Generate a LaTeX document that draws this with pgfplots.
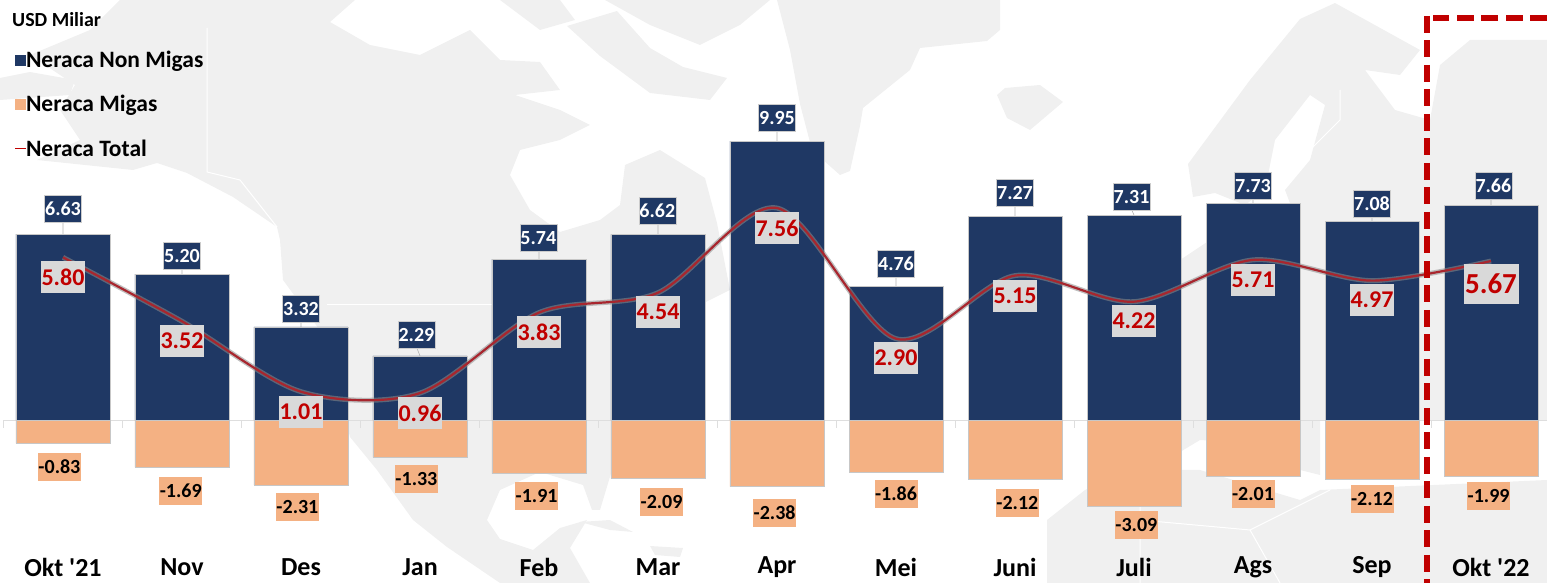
\documentclass[border=0pt]{standalone}
\usepackage{fontspec}
\setmainfont[Ligatures=TeXOff]{Carlito}
\usepackage{pgfplots}
\usepackage{pgfplotstable}
\pgfplotsset{compat=1.18}
\definecolor{navy}{HTML}{1F3864}
\definecolor{peach}{HTML}{F4B183}
\definecolor{dred}{HTML}{C00000}
\definecolor{lred}{HTML}{A8262E}
\definecolor{land}{HTML}{F0F0F0}
\pgfplotstableread{
x nonmigas migas total
0 6.63 -0.83 5.80
1 5.20 -1.69 3.52
2 3.32 -2.31 1.01
3 2.29 -1.33 0.96
4 5.74 -1.91 3.83
5 6.62 -2.09 4.54
6 9.95 -2.38 7.56
7 4.76 -1.86 2.90
8 7.27 -2.12 5.15
9 7.31 -3.09 4.22
10 7.73 -2.01 5.71
11 7.08 -2.12 4.97
12 7.66 -1.99 5.67
}\maindata
\pgfplotstableread{
x y lab
0 7.52 6.63
1 5.85 5.20
2 3.96 3.32
2.97 3.03 2.29
3.994 6.49 5.74
4.994 7.45 6.62
6 10.77 9.95
7 5.56 4.76
8 8.10 7.27
8.98 7.95 7.31
10 8.35 7.73
11 7.70 7.08
12.02 8.35 7.66
}\navylabels
\pgfplotstableread{
x y lab
-0.03 -1.68 -0.83
0.99 -2.53 -1.69
1.97 -3.10 -2.31
2.97 -2.10 -1.33
3.98 -2.71 -1.91
5.03 -2.92 -2.09
5.98 -3.32 -2.38
7 -2.64 -1.86
8.02 -2.96 -2.12
9.02 -3.74 -3.09
10 -2.64 -2.01
11 -2.82 -2.12
11.98 -2.71 -1.99
}\peachlabels
\pgfplotstableread{
x y lab
0 5.10 5.80
1 2.82 3.52
2 0.29 1.01
3 0.25 0.96
4 3.14 3.83
5 3.85 4.54
6 6.85 7.56
7 2.21 2.90
8 4.42 5.15
9 3.53 4.22
10 5.00 5.71
11 4.28 4.97
}\redlabels
\pgfplotstableread{
x y lab
12 4.85 5.67
}\biglabel
\pgfplotstableread{
x y
0 6.63
0 7.1
nan nan
1 5.20
1 5.4
nan nan
2 3.32
2 3.5
nan nan
3 2.29
2.97 2.6
nan nan
4 5.74
4 6.0
nan nan
5 6.62
5 7.0
nan nan
6 9.95
6 10.3
nan nan
7 4.76
7 5.1
nan nan
8 7.27
8 7.7
nan nan
9 7.31
8.98 7.5
nan nan
10 7.73
10 7.9
nan nan
11 7.08
11 7.3
nan nan
12 7.66
12 7.9
}\leaders
\pgfplotstableread{
x y
-0.5 0
12.6 0
nan nan
-0.5 0
-0.5 -0.28
nan nan
0.5 0
0.5 -0.28
nan nan
1.5 0
1.5 -0.28
nan nan
2.5 0
2.5 -0.28
nan nan
3.5 0
3.5 -0.28
nan nan
4.5 0
4.5 -0.28
nan nan
5.5 0
5.5 -0.28
nan nan
6.5 0
6.5 -0.28
nan nan
7.5 0
7.5 -0.28
nan nan
8.5 0
8.5 -0.28
nan nan
9.5 0
9.5 -0.28
nan nan
10.5 0
10.5 -0.28
nan nan
11.5 0
11.5 -0.28
}\zeroline
\begin{document}
\begin{tikzpicture}
\useasboundingbox (0,0) rectangle (1547pt,583pt);
% background map, pixel coordinates with y downwards
\begin{scope}[x=1pt,y=-1pt,yshift=583pt]
\clip (0,0) rectangle (1547,583);
\fill[land] (0,78) -- (30,72) -- (75,80) -- (70,95) -- (0,100) -- cycle;
% Alaska and mainland North America
\fill[land] (120,0) -- (355,0) -- (330,22) -- (370,45) -- (420,55) -- (470,30) -- (500,60) -- (540,62)
 -- (560,90) -- (515,95) -- (560,110) -- (590,125) -- (560,140) -- (520,150) -- (510,175) -- (530,210)
 -- (560,232) -- (600,220) -- (620,205) -- (625,165) -- (660,150) -- (705,178) -- (717,223) -- (730,290)
 -- (690,310) -- (690,420) -- (640,440) -- (612,470) -- (600,510) -- (592,510) -- (583,485) -- (540,472) -- (500,490)
 -- (487,520) -- (500,539) -- (533,550) -- (560,528) -- (587,520) -- (570,548) -- (590,583)
 -- (500,583) -- (447,547) -- (413,520) -- (377,470) -- (350,437) -- (327,340) -- (283,280) -- (280,240)
 -- (277,227) -- (233,197) -- (187,173) -- (157,163) -- (133,170) -- (37,160) -- (80,140) -- (60,110)
 -- (75,85) -- (30,55) -- (90,30) -- cycle;
% Arctic islands
\fill[land] (567,26) -- (617,11) -- (650,48) -- (683,67) -- (727,78) -- (710,100) -- (650,93) -- (600,56) -- cycle;
\fill[land] (500,0) -- (560,0) -- (575,20) -- (540,30) -- cycle;
\fill[land] (605,0) -- (770,0) -- (740,25) -- (700,45) -- (650,25) -- cycle;
% Caribbean
\fill[land] (580,522) -- (610,520) -- (633,532) -- (610,530) -- cycle;
\fill[land] (650,546) -- (683,548) -- (680,557) -- (655,555) -- cycle;
% Greenland
\fill[land] (777,0) -- (1000,0) -- (1000,30) -- (987,41) -- (920,48) -- (910,70) -- (863,108) -- (860,126)
 -- (850,171) -- (840,175) -- (823,160) -- (812,150) -- (800,104) -- (790,50) -- cycle;
% Iceland
\fill[land] (997,95) -- (1005,88) -- (1040,85) -- (1063,102) -- (1030,130) -- (1007,118) -- cycle;
% Scandinavia and Russia
\fill[land] (1188,164) -- (1193,197) -- (1215,193) -- (1245,205) -- (1265,190) -- (1275,140) -- (1310,95)
 -- (1325,105) -- (1310,160) -- (1285,190) -- (1300,230) -- (1210,240) -- (1180,260) -- (1175,420)
 -- (1300,425) -- (1300,470) -- (1320,475) -- (1320,420) -- (1547,420) -- (1547,40) -- (1470,40)
 -- (1440,65) -- (1430,120) -- (1395,110) -- (1365,70) -- (1400,75) -- (1420,50) -- (1335,3) -- (1300,19)
 -- (1250,80) -- cycle;
% Africa and Middle East
\fill[land] (1047,583) -- (1047,520) -- (1085,490) -- (1130,470) -- (1200,470) -- (1300,500) -- (1320,490)
 -- (1547,480) -- (1547,583) -- cycle;
\fill[land] (1140,420) -- (1300,420) -- (1280,445) -- (1200,440) -- (1150,470) -- cycle;
% borders
\draw[white,line width=1pt] (207,28) -- (207,172) -- (240,180) -- (277,227);
\draw[white,line width=1pt] (327,305) -- (520,305);
\draw[white,line width=1pt] (1140,490) -- (1140,583) (1140,520) -- (1250,530) -- (1330,490) (1250,530) -- (1280,583);
\draw[white,line width=1pt] (1300,160) -- (1340,120) -- (1340,90);
\end{scope}
\begin{axis}[
  at={(0,0)},anchor=south west,
  scale only axis,width=1547pt,height=583pt,
  xmin=-0.5294,xmax=12.4706,ymin=-5.813,ymax=14.979,
  axis line style={draw=none},
  ytick=\empty,
  xtick={0,...,12},
  xticklabels={Okt '21,Nov,Des,Jan,Feb,Mar,Apr,Mei,Juni,Juli,Ags,Sep,Okt '22},
  major tick length=0pt,
  xticklabel style={anchor=center,yshift=16pt,font=\fontsize{26}{26}\selectfont\bfseries,text=black},
  bar width=94pt,
  clip=false,
  unbounded coords=jump,
  legend cell align=left,
  legend style={at={(15pt,532pt)},anchor=north west,draw=none,fill=none,inner sep=0pt,outer sep=0pt,
    font=\fontsize{23.5}{23.5}\selectfont\bfseries,
    row sep=26.5pt,
    nodes={inner sep=0pt,outer sep=0pt},
    /tikz/every even column/.append style={column sep=1pt}},
  legend image code/.code={\fill[#1] (0pt,-5pt) rectangle (10pt,5pt);},
]
\addlegendimage{navy}
\addlegendentry{Neraca Non Migas}
\addlegendimage{peach}
\addlegendentry{Neraca Migas}
\addlegendimage{legend image code/.code={\draw[dred,line width=1pt] (0pt,0pt) -- (10pt,0pt);}}
\addlegendentry{Neraca Total}
\addplot[forget plot,draw=black!13,line width=0.8pt] table[x=x,y=y] {\zeroline};
\addplot[forget plot,draw=black!30,line width=0.6pt] table[x=x,y=y] {\leaders};
\addplot[forget plot,ybar,bar shift=0pt,fill=navy,draw=black!22,line width=0.5pt] table[x=x,y=nonmigas] {\maindata};
\addplot[forget plot,ybar,bar shift=0pt,fill=peach,draw=black!22,line width=0.5pt] table[x=x,y=migas] {\maindata};
\addplot[forget plot,smooth,draw=black!45,opacity=0.55,line width=5pt] table[x=x,y=total] {\maindata};
\addplot[forget plot,smooth,draw=lred,line width=2.2pt] table[x=x,y=total] {\maindata};
\addplot[forget plot,draw=none,mark=none,point meta=explicit symbolic,
  nodes near coords,
  nodes near coords style={anchor=center,fill=navy,draw=black!20,line width=0.4pt,text=white,inner sep=0pt,
    minimum width=37pt,minimum height=27pt,font=\fontsize{20}{20}\selectfont\bfseries}]
  table[x=x,y=y,meta=lab] {\navylabels};
\addplot[forget plot,draw=none,mark=none,point meta=explicit symbolic,
  nodes near coords,
  nodes near coords style={anchor=center,fill=peach,text=black,inner sep=0pt,
    minimum width=43pt,minimum height=28pt,font=\fontsize{20}{20}\selectfont\bfseries}]
  table[x=x,y=y,meta=lab] {\peachlabels};
\addplot[forget plot,draw=none,mark=none,point meta=explicit symbolic,
  nodes near coords,
  nodes near coords style={anchor=center,fill=black!15,text=dred,inner sep=0pt,
    minimum width=44pt,minimum height=32pt,font=\fontsize{24}{24}\selectfont\bfseries}]
  table[x=x,y=y,meta=lab] {\redlabels};
\addplot[forget plot,draw=none,mark=none,point meta=explicit symbolic,
  nodes near coords,
  nodes near coords style={anchor=center,fill=black!15,text=dred,inner sep=0pt,
    minimum width=55pt,minimum height=40pt,font=\fontsize{29}{29}\selectfont\bfseries}]
  table[x=x,y=y,meta=lab] {\biglabel};
\end{axis}
\node[anchor=west,inner sep=0pt,font=\fontsize{20}{20}\selectfont\bfseries] at (12pt,563pt) {USD Miliar};
% highlight frame
\draw[dred,line width=6pt,dash pattern=on 17pt off 7.5pt] (1547pt,565pt) -- (1433pt,565pt);
\draw[dred,line width=6pt,dash pattern=on 17pt off 7.5pt] (1427pt,567pt) -- (1427pt,0pt);
\end{tikzpicture}
\end{document}
